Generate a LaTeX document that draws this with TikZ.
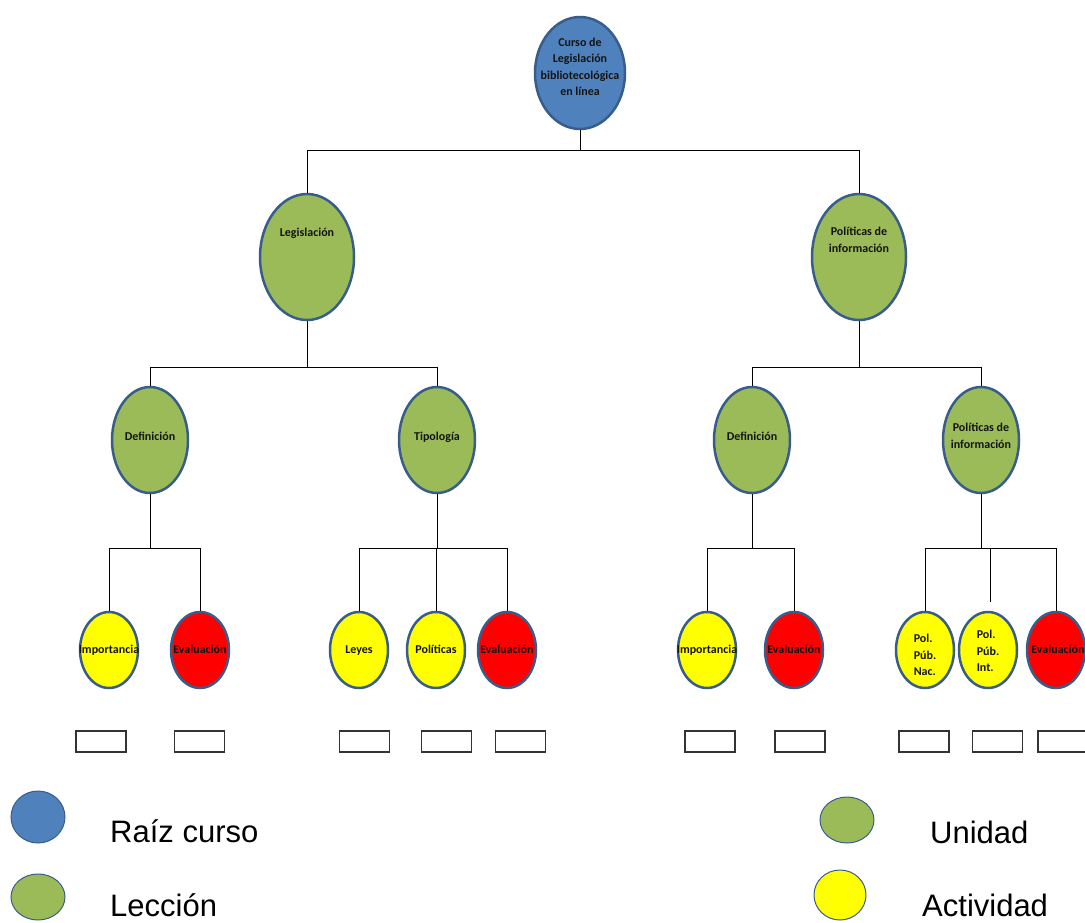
\documentclass[tikz,border=0pt]{standalone}
\usepackage{fontspec}
\setmainfont{Liberation Sans}
\newfontfamily\ovalfont{Carlito}
\usetikzlibrary{shapes.geometric}
\definecolor{ovblue}{RGB}{79,129,189}
\definecolor{ovgreen}{RGB}{155,187,89}
\definecolor{ovyellow}{RGB}{255,255,0}
\definecolor{ovred}{RGB}{255,0,0}
\definecolor{ovline}{RGB}{56,93,138}
\definecolor{ovtext}{RGB}{20,20,20}
\tikzset{
  oval/.style={ellipse, draw=ovline, line width=2.5pt, inner sep=0pt},
  rootoval/.style={oval, fill=ovblue, minimum width=90pt, minimum height=112pt},
  unitoval/.style={oval, fill=ovgreen, minimum width=94pt, minimum height=126pt},
  lessonoval/.style={oval, fill=ovgreen, minimum width=76pt, minimum height=106pt},
  actoval/.style={oval, fill=ovyellow, minimum width=58pt, minimum height=76pt},
  evaloval/.style={oval, fill=ovred, minimum width=58pt, minimum height=76pt},
  ovtxt/.style={font=\ovalfont\bfseries\fontsize{12}{16.5}\selectfont, text=ovtext, align=center, inner sep=0pt},
  ovtxt1/.style={ovtxt, text height=8.5pt, text depth=2.5pt},
  ovtxtl/.style={ovtxt, align=left},
  conn/.style={draw=black, line width=1pt},
  slot/.style={draw=black!80, line width=1.3pt, minimum width=50pt, minimum height=21pt, inner sep=0pt},
  legoval/.style={ellipse, draw=ovline, line width=1pt, inner sep=0pt, minimum width=54pt, minimum height=48pt},
  legtxt/.style={font=\fontsize{31}{36}\selectfont, anchor=base west, inner sep=0pt}
}
\begin{document}
\begin{tikzpicture}[x=1pt,y=-1pt]
\useasboundingbox (0,0) rectangle (1085,922);
% root
\node[rootoval] (root) at (580,73) {};
\node[ovtxt] (roott) at (580,67) {Curso de\\Legislación\\bibliotecológica\\en línea};
% units
\node[unitoval] (leg) at (307,257) {};
\node[ovtxt1] (legt) at (307,233) {Legislación};
\node[unitoval] (pol) at (859,257) {};
\node[ovtxt] (polt) at (859,240) {Políticas de\\información};
% lessons
\node[lessonoval] (def1) at (150,440) {};
\node[ovtxt1] (def1t) at (150,437) {Definición};
\node[lessonoval] (tip) at (437,440) {};
\node[ovtxt1] (tipt) at (437,437) {Tipología};
\node[lessonoval] (def2) at (752,440) {};
\node[ovtxt1] (def2t) at (752,437) {Definición};
\node[lessonoval] (pol2) at (981,440) {};
\node[ovtxt] (pol2t) at (981,436) {Políticas de\\información};
% activities
\node[actoval] (imp1) at (109,650) {};
\node[ovtxt1] (imp1t) at (109,650) {Importancia};
\node[evaloval] (ev1) at (200,650) {};
\node[ovtxt1] (ev1t) at (200,650) {Evaluación};
\node[actoval] (ley) at (359,650) {};
\node[ovtxt1] (leyt) at (359,650) {Leyes};
\node[actoval] (pols) at (436,650) {};
\node[ovtxt1] (polst) at (436,650) {Políticas};
\node[evaloval] (ev2) at (507,650) {};
\node[ovtxt1] (ev2t) at (507,650) {Evaluación};
\node[actoval] (imp2) at (707,650) {};
\node[ovtxt1] (imp2t) at (707,650) {Importancia};
\node[evaloval] (ev3) at (794,650) {};
\node[ovtxt1] (ev3t) at (794,650) {Evaluación};
\node[actoval] (ppn) at (925,650) {};
\node[ovtxtl] (ppnt) at (925,655) {Pol.\\Púb.\\Nac.};
\node[actoval] (ppi) at (988,650) {};
\node[ovtxtl] (ppit) at (988,651) {Pol.\\Púb.\\Int.};
\node[evaloval] (ev4) at (1056,650) {};
\node[ovtxt1] (ev4t) at (1058,650) {Evaluación};
% bus coordinates
\coordinate (b0) at (0,150);
\coordinate (b1) at (0,367);
\coordinate (b2) at (0,548);
\coordinate (ppitop) at (990,602);
% connectors
\draw[conn] (root.south) -- (root.south |- b0);
\draw[conn] (leg.north) -- (leg.north |- b0) -- (pol.north |- b0) -- (pol.north);
\draw[conn] (leg.south) -- (leg.south |- b1);
\draw[conn] (def1.north) -- (def1.north |- b1) -- (tip.north |- b1) -- (tip.north);
\draw[conn] (pol.south) -- (pol.south |- b1);
\draw[conn] (def2.north) -- (def2.north |- b1) -- (pol2.north |- b1) -- (pol2.north);
\draw[conn] (def1.south) -- (def1.south |- b2);
\draw[conn] (imp1.north) -- (imp1.north |- b2) -- (ev1.north |- b2) -- (ev1.north);
\draw[conn] (tip.south) -- (tip.south |- b2);
\draw[conn] (ley.north) -- (ley.north |- b2) -- (ev2.north |- b2) -- (ev2.north);
\draw[conn] (pols.north) -- (pols.north |- b2);
\draw[conn] (def2.south) -- (def2.south |- b2);
\draw[conn] (imp2.north) -- (imp2.north |- b2) -- (ev3.north |- b2) -- (ev3.north);
\draw[conn] (pol2.south) -- (pol2.south |- b2);
\draw[conn] (ppn.north) -- (ppn.north |- b2) -- (ev4.north |- b2) -- (ev4.north);
\draw[conn] (ppitop) -- (ppitop |- b2);
% slots
\node[slot] (s1) at (101,741.5) {};
\node[slot] (s2) at (199.5,741.5) {};
\node[slot] (s3) at (364.5,741.5) {};
\node[slot] (s4) at (446.5,741.5) {};
\node[slot] (s5) at (520.5,741.5) {};
\node[slot] (s6) at (710,741.5) {};
\node[slot] (s7) at (800,741.5) {};
\node[slot] (s8) at (924,741.5) {};
\node[slot] (s9) at (997.5,741.5) {};
\node[slot] (s10) at (1063,741.5) {};
% legend
\node[legoval, fill=ovblue, minimum height=52pt] (lg1) at (38,817) {};
\node[legtxt] (lg1t) at (110,842) {Raíz curso};
\node[legoval, fill=ovgreen, minimum height=46pt] (lg2) at (38,897) {};
\node[legtxt] (lg2t) at (110,916) {Lección};
\node[legoval, fill=ovgreen, minimum height=46pt] (lg3) at (847,820) {};
\node[legtxt] (lg3t) at (930,843) {Unidad};
\node[legoval, fill=ovyellow, minimum width=52pt, minimum height=50pt] (lg4) at (840,895) {};
\node[legtxt] (lg4t) at (922,916) {Actividad};
\end{tikzpicture}
\end{document}
